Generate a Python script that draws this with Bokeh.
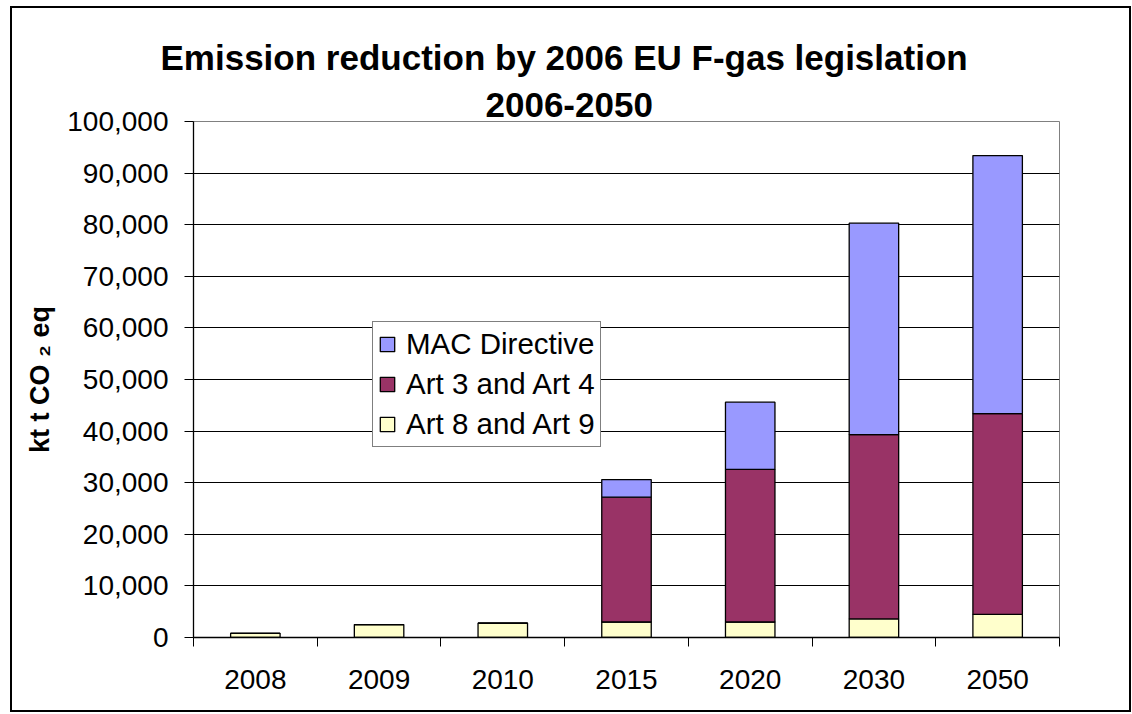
from bokeh.plotting import figure
from bokeh.models import (ColumnDataSource, FixedTicker, NumeralTickFormatter,
                          Legend, LegendItem, Title, Range1d)
from bokeh.embed import file_html
from bokeh.resources import INLINE

years = ["2008", "2009", "2010", "2015", "2020", "2030", "2050"]
art8 = [800, 2500, 2800, 3000, 3000, 3600, 4500]
art3 = [0, 0, 0, 24200, 29600, 35700, 38900]
mac = [0, 0, 0, 3400, 13000, 41000, 50000]
series = ["Art 8 and Art 9", "Art 3 and Art 4", "MAC Directive"]
colors = ["#FFFFCC", "#993366", "#9999FF"]
y_ticks = list(range(0, 100001, 10000))

FONT = "Liberation Sans"

xpos = [i + 0.5 for i in range(len(years))]
source = ColumnDataSource(dict(x=xpos, art8=art8, art3=art3, mac=mac))

W, H = 1121, 706
p = figure(width=W, height=H, output_backend="svg", toolbar_location=None,
           x_range=Range1d(0, len(years)), y_range=Range1d(0, 100000),
           min_border_left=181, min_border_right=W - 181 - 866,
           min_border_top=113, min_border_bottom=H - 113 - 516)
p.styles = {"border": "2px solid black", "margin-left": "10px", "margin-top": "6px"}
p.outline_line_color = "#808080"
p.outline_line_width = 1
p.background_fill_color = "white"
p.border_fill_color = "white"

renderers = p.vbar_stack(["art8", "art3", "mac"], x="x", width=0.4, source=source,
                         fill_color=colors, line_color="black", line_width=1.3)

# axes
xa = p.xaxis[0]
xa.ticker = FixedTicker(ticks=xpos, minor_ticks=list(range(len(years) + 1)))
xa.major_label_overrides = {x: y for x, y in zip(xpos, years)}
xa.major_tick_line_color = None
xa.major_tick_out = 0
xa.major_tick_in = 0
xa.minor_tick_line_color = "black"
xa.minor_tick_out = 9
xa.minor_tick_in = 0
xa.axis_line_color = "black"
xa.axis_line_width = 1.3
xa.major_label_text_font = FONT
xa.major_label_text_font_size = "28px"
xa.major_label_text_color = "black"
xa.major_label_standoff = 23

ya = p.yaxis[0]
ya.ticker = FixedTicker(ticks=y_ticks)
ya.formatter = NumeralTickFormatter(format="0,0")
ya.major_tick_out = 9
ya.major_tick_in = 0
ya.minor_tick_line_color = None
ya.axis_line_color = "black"
ya.axis_line_width = 1.3
ya.major_tick_line_color = "black"
ya.major_label_text_font = FONT
ya.major_label_text_font_size = "28px"
ya.major_label_text_color = "black"
ya.major_label_standoff = 16
ya.axis_label = "kt t CO ₂ eq"
ya.axis_label_text_font = FONT
ya.axis_label_text_font_size = "27px"
ya.axis_label_text_font_style = "bold"
ya.axis_label_text_color = "black"
ya.axis_label_standoff = 9

p.xgrid.grid_line_color = None
p.ygrid.ticker = FixedTicker(ticks=y_ticks)
p.ygrid.grid_line_color = "black"
p.ygrid.grid_line_width = 1

# title (two lines)
p.add_layout(Title(text="2006-2050", text_font=FONT, text_font_size="35px",
                   text_font_style="bold", text_color="black", align="left",
                   offset=292, standoff=9), "above")
p.add_layout(Title(text="Emission reduction by 2006 EU F-gas legislation",
                   text_font=FONT, text_font_size="35px", text_font_style="bold",
                   text_color="black", align="left", offset=-33, standoff=20), "above")

legend = Legend(items=[LegendItem(label=series[i], renderers=[renderers[i]])
                       for i in (2, 1, 0)],
                location=(179, 190))
legend.border_line_color = "black"
legend.border_line_width = 1
legend.background_fill_color = "white"
legend.background_fill_alpha = 1
legend.label_text_font = FONT
legend.label_text_font_size = "29.5px"
legend.label_text_color = "black"
legend.glyph_width = 18
legend.glyph_height = 18
legend.label_height = 28
legend.label_standoff = 10
legend.spacing = 6
legend.padding = 5
legend.margin = 0
p.add_layout(legend, "center")

open("out.html", "w").write(file_html(p, INLINE))
